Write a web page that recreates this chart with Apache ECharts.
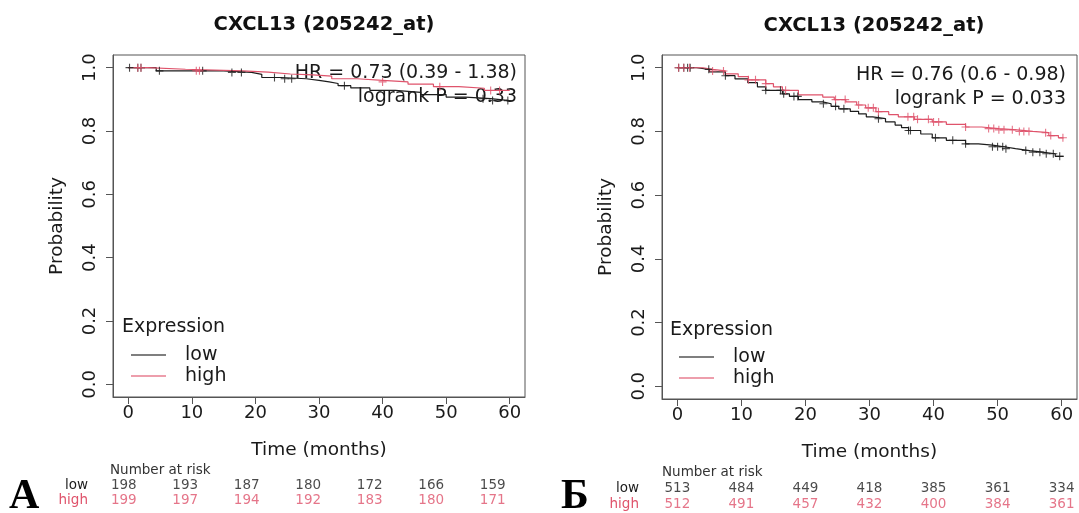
<!DOCTYPE html>
<html>
<head>
<meta charset="utf-8">
<script src="https://cdn.jsdelivr.net/npm/echarts@6/dist/echarts.min.js"></script>
<style>
  html, body { margin: 0; padding: 0; background: #ffffff; }
  #chart { width: 1079px; height: 513px; }
</style>
</head>
<body>
<div id="chart"></div>
<script>
// Kaplan–Meier curves for CXCL13 (205242_at): [month, survival probability] after each step
const panelTitle = 'CXCL13 (205242_at)';
const monthTicks = [0, 10, 20, 30, 40, 50, 60];
const probTicks = [0, 0.2, 0.4, 0.6, 0.8, 1.0];

// Panel А
const lowCurveA = [[0, 1], [4.4, 0.99], [15, 0.985], [19.4, 0.979], [21, 0.969], [24, 0.965], [28, 0.96],
  [30, 0.955], [31.6, 0.95], [33, 0.943], [35, 0.936], [38, 0.928], [42, 0.922], [46, 0.915],
  [50, 0.907], [53, 0.902], [57, 0.896], [60, 0.896]];
const highCurveA = [[0, 1], [3, 0.995], [9, 0.99], [18, 0.986], [22, 0.98], [25.5, 0.977], [29, 0.973],
  [32, 0.965], [36, 0.96], [40, 0.955], [44, 0.948], [48, 0.94], [52, 0.935], [56, 0.928], [60, 0.928]];
const lowCensorA = [0.2, 1.5, 2, 4.9, 11.7, 16.3, 17.8, 23, 24.6, 25.7, 34, 55.8, 57.3, 59.7];
const highCensorA = [1.5, 2, 10.7, 11.2, 40, 49, 57, 58.4];
const lowAtRiskA = [198, 193, 187, 180, 172, 166, 159];
const highAtRiskA = [199, 197, 194, 192, 183, 180, 171];
const statsA = ['HR = 0.73 (0.39 - 1.38)', 'logrank P = 0.33'];

// Panel Б
const lowCurveB = [[0, 1], [3, 0.995], [5, 0.987], [7.5, 0.975], [9, 0.965], [11, 0.953], [12.5, 0.94],
  [13.8, 0.929], [16.4, 0.918], [17.5, 0.91], [18.9, 0.9], [21, 0.893], [22.7, 0.887], [24, 0.879],
  [25.2, 0.871], [27, 0.863], [28.3, 0.855], [29.5, 0.846], [30.5, 0.84], [32.5, 0.83], [34, 0.82],
  [35, 0.812], [36.1, 0.803], [38, 0.792], [39.8, 0.78], [42, 0.772], [45, 0.761], [47, 0.757],
  [49.2, 0.752], [51, 0.746], [52.8, 0.74], [55, 0.735], [57, 0.73], [59, 0.722], [60.3, 0.722]];
const highCurveB = [[0, 1], [4, 0.995], [5.5, 0.99], [7.5, 0.981], [9.5, 0.972], [11.1, 0.962],
  [13.8, 0.95], [15, 0.94], [16.4, 0.929], [18.9, 0.915], [22.7, 0.908], [24.5, 0.9], [26.3, 0.893],
  [28, 0.883], [29.4, 0.874], [31, 0.862], [33, 0.853], [34.5, 0.846], [37, 0.838], [39.8, 0.83],
  [42, 0.822], [45, 0.814], [47.5, 0.809], [50.2, 0.805], [53, 0.8], [55.5, 0.796], [58, 0.787],
  [59.5, 0.78], [60.3, 0.78]];
const lowCensorB = [0.2, 1, 1.6, 2, 4.9, 7.5, 13.8, 16.1, 16.6, 18.2, 18.8, 22.8, 24.7, 26, 31.4, 36.1,
  36.4, 40.3, 43, 45, 49.2, 50, 50.8, 51.3, 54.4, 55.5, 56.6, 57.6, 58.7, 59.7];
const highCensorB = [0.2, 1, 1.9, 5.5, 7.2, 11.1, 12.2, 13.8, 16.9, 24.7, 26.2, 28.3, 29.8, 30.6, 31.4,
  36, 36.9, 37.5, 39.2, 40, 40.8, 45, 48.6, 49.4, 50.2, 51, 52.3, 53.4, 54.1, 54.9, 57.5, 58.3, 60.2];
const lowAtRiskB = [513, 484, 449, 418, 385, 361, 334];
const highAtRiskB = [512, 491, 457, 432, 400, 384, 361];
const statsB = ['HR = 0.76 (0.6 - 0.98)', 'logrank P = 0.033'];

const groups = ['low', 'high'];
const COLORS = { low: '#1c1c1c', high: '#DF536B' };
const FONT = 'DejaVu Sans';
const AXIS_GREY = '#555555';

// survival probability of a step curve at time t
function survivalAt(curve, t) {
  let s = curve[0][1];
  for (const [time, value] of curve) { if (time <= t) s = value; }
  return s;
}

const plusSymbol = 'path://M-0.55,-4H0.55V-0.55H4V0.55H0.55V4H-0.55V0.55H-4V-0.55H-0.55Z';

function plotAxes(gridIndex) {
  return {
    x: {
      type: 'value', gridIndex, min: -2.4, max: 62.4, position: 'bottom',
      name: 'Time (months)', nameLocation: 'middle', nameGap: 44,
      nameTextStyle: { fontFamily: FONT, fontSize: 18.5, color: '#1a1a1a' },
      axisLine: { show: true, onZero: false, lineStyle: { color: AXIS_GREY, width: 1 } },
      axisTick: { show: true, inside: false, length: 7, customValues: monthTicks, lineStyle: { color: AXIS_GREY } },
      axisLabel: { customValues: monthTicks, margin: 7, fontFamily: FONT, fontSize: 18, color: '#1a1a1a' },
      splitLine: { show: false }
    },
    y: {
      type: 'value', gridIndex, min: -0.04, max: 1.04, position: 'left',
      name: 'Probability', nameLocation: 'middle', nameGap: 46, nameRotate: 90,
      nameTextStyle: { fontFamily: FONT, fontSize: 18.5, color: '#1a1a1a' },
      axisLine: { show: true, onZero: false, lineStyle: { color: AXIS_GREY, width: 1 } },
      axisTick: { show: true, inside: false, length: 7, customValues: probTicks, lineStyle: { color: AXIS_GREY } },
      axisLabel: {
        customValues: probTicks, rotate: 90, margin: 14, fontFamily: FONT, fontSize: 18, color: '#1a1a1a',
        formatter: v => Number(v).toFixed(1)
      },
      splitLine: { show: false }
    }
  };
}

function riskAxes(gridIndex, margin) {
  return {
    x: { type: 'value', gridIndex, min: -2.4, max: 62.4, show: false },
    y: {
      type: 'category', gridIndex, data: groups, inverse: true,
      axisLine: { show: false }, axisTick: { show: false },
      axisLabel: {
        interval: 0, margin, fontFamily: FONT, fontSize: 13.5,
        color: (value) => COLORS[value]
      }
    }
  };
}

const axA = plotAxes(0), axB = plotAxes(1), rkA = riskAxes(2, 21), rkB = riskAxes(3, 23);

function curveSeries(name, curve, axisIndex) {
  return {
    type: 'line', name, data: curve, step: 'end', showSymbol: false,
    xAxisIndex: axisIndex, yAxisIndex: axisIndex, color: COLORS[name],
    lineStyle: { width: 1.2, color: COLORS[name] }, silent: true, z: 3
  };
}
function censorSeries(name, times, curve, axisIndex) {
  return {
    type: 'scatter', name: name + ' (censored)', data: times.map(t => [t, survivalAt(curve, t)]),
    symbol: plusSymbol, symbolSize: 8, xAxisIndex: axisIndex, yAxisIndex: axisIndex,
    itemStyle: { color: COLORS[name] }, silent: true, z: 4
  };
}
function riskSeries(name, counts, axisIndex) {
  return {
    type: 'scatter', name: name + ' at risk',
    data: counts.map((c, i) => [monthTicks[i], name, c]),
    symbolSize: 0, xAxisIndex: axisIndex, yAxisIndex: axisIndex, silent: true,
    label: {
      show: true, position: 'inside', formatter: p => String(p.value[2]),
      fontFamily: FONT, fontSize: 13.5, color: COLORS[name]
    }
  };
}

function legendFor(left, top) {
  return {
    left, top, orient: 'vertical', padding: 0, itemGap: 0, selectedMode: false,
    itemWidth: 35, itemHeight: 1.4, icon: 'rect',
    data: groups.map(g => ({ name: g, itemStyle: { color: COLORS[g], opacity: 0.75 } })),
    textStyle: { fontFamily: FONT, fontSize: 19, lineHeight: 21, color: '#1a1a1a', padding: [0, 0, 0, 14] }
  };
}

function text(x, y, str, opts) {
  return {
    type: 'text', x, y, silent: true,
    style: Object.assign({ text: str, fontFamily: FONT, fontSize: 19, fill: '#1a1a1a',
      textVerticalAlign: 'middle' }, opts || {})
  };
}

const chart = echarts.init(document.getElementById('chart'), null, { renderer: 'canvas' });
chart.setOption({
  animation: false,
  backgroundColor: '#ffffff',
  title: [
    { text: panelTitle, left: 319, top: 10, textAlign: 'center',
      textStyle: { fontFamily: FONT, fontWeight: 'bold', fontSize: 19.5, color: '#111' } },
    { text: panelTitle, left: 869, top: 11, textAlign: 'center',
      textStyle: { fontFamily: FONT, fontWeight: 'bold', fontSize: 19.5, color: '#111' } }
  ],
  grid: [
    { left: 113, top: 55, width: 412, height: 342, show: true, borderColor: AXIS_GREY, borderWidth: 1, backgroundColor: 'transparent' },
    { left: 662, top: 55, width: 415, height: 344, show: true, borderColor: AXIS_GREY, borderWidth: 1, backgroundColor: 'transparent' },
    { left: 109, top: 477.5, width: 398.5, height: 30 },
    { left: 662, top: 480, width: 415, height: 32 }
  ],
  xAxis: [axA.x, axB.x, rkA.x, rkB.x],
  yAxis: [axA.y, axB.y, rkA.y, rkB.y],
  legend: [legendFor(131, 344.5), legendFor(679, 346.5)],
  series: [
    curveSeries('low', lowCurveA, 0),
    curveSeries('high', highCurveA, 0),
    censorSeries('low', lowCensorA, lowCurveA, 0),
    censorSeries('high', highCensorA, highCurveA, 0),
    curveSeries('low', lowCurveB, 1),
    curveSeries('high', highCurveB, 1),
    censorSeries('low', lowCensorB, lowCurveB, 1),
    censorSeries('high', highCensorB, highCurveB, 1),
    riskSeries('low', lowAtRiskA, 2),
    riskSeries('high', highAtRiskA, 2),
    riskSeries('low', lowAtRiskB, 3),
    riskSeries('high', highAtRiskB, 3)
  ],
  graphic: [
    text(517, 73, statsA[0], { textAlign: 'right' }),
    text(517, 97, statsA[1], { textAlign: 'right' }),
    text(1066, 75, statsB[0], { textAlign: 'right' }),
    text(1066, 99, statsB[1], { textAlign: 'right' }),
    text(122, 327, 'Expression'),
    text(670, 330, 'Expression'),
    text(110, 470, 'Number at risk', { fontSize: 13.5, fill: '#333' }),
    text(662, 472, 'Number at risk', { fontSize: 13.5, fill: '#333' }),
    text(9, 497, 'А', { fontFamily: 'Liberation Serif', fontWeight: 'bold', fontSize: 42, fill: '#000' }),
    text(561, 497, 'Б', { fontFamily: 'Liberation Serif', fontWeight: 'bold', fontSize: 42, fill: '#000' })
  ]
});
</script>
</body>
</html>
